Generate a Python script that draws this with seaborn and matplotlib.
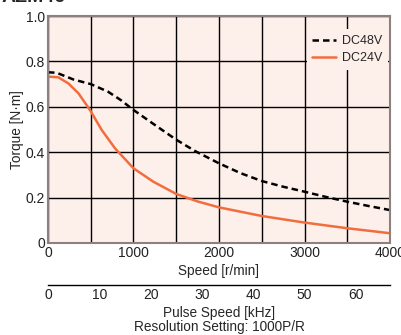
import matplotlib
matplotlib.use("Agg")
import matplotlib.pyplot as plt
import seaborn as sns
import pandas as pd

sns.set_style("white")
plt.rcParams['font.family'] = ['Liberation Sans', 'DejaVu Sans']

speed_48 = [0, 100, 300, 500, 700, 850, 1000, 1250, 1500, 1720, 2000, 2250, 2500, 2750, 3000, 3250, 3500, 3750, 4000]
torque_48 = [0.752, 0.750, 0.720, 0.700, 0.667, 0.630, 0.586, 0.520, 0.455, 0.405, 0.351, 0.308, 0.273, 0.248, 0.226, 0.203, 0.182, 0.163, 0.145]

speed_24 = [0, 120, 238, 355, 491, 628, 784, 1000, 1232, 1500, 1750, 2000, 2500, 3000, 3500, 4000]
torque_24 = [0.733, 0.730, 0.703, 0.660, 0.586, 0.498, 0.417, 0.329, 0.270, 0.216, 0.183, 0.157, 0.119, 0.090, 0.065, 0.043]

series_names = ["DC48V", "DC24V"]
x_ticks = [0, 1000, 2000, 3000, 4000]
y_ticks = [0, 0.2, 0.4, 0.6, 0.8, 1.0]
y_tick_labels = ["0", "0.2", "0.4", "0.6", "0.8", "1.0"]
khz_ticks = [0, 10, 20, 30, 40, 50, 60]

df = pd.concat([
    pd.DataFrame({"speed": speed_48, "torque": torque_48, "series": series_names[0]}),
    pd.DataFrame({"speed": speed_24, "torque": torque_24, "series": series_names[1]}),
])

orange = "#f26d3d"
fig = plt.figure(figsize=(4.02, 3.35), dpi=100)
ax = fig.add_axes([48/402, 92/335, 342/402, 227/335])
ax.set_facecolor("#fdf0ea")

sns.lineplot(data=df, x="speed", y="torque", hue="series", style="series",
             palette={"DC48V": "black", "DC24V": orange},
             dashes={"DC48V": (2.6, 1.6), "DC24V": ""},
             linewidth=1.8, ax=ax, sort=False)

ax.set_xlim(0, 4000)
ax.set_ylim(0, 1.0)
ax.set_xticks(x_ticks)
ax.set_xticks(range(500, 4000, 1000), minor=True)
ax.set_yticks(y_ticks)
ax.set_yticklabels(y_tick_labels)
ax.grid(True, which="both", color="black", linewidth=1)
ax.tick_params(which="both", length=0, labelsize=10, pad=2, colors="#222222")
for s in ax.spines.values():
    s.set_color("#8c8080")
    s.set_linewidth(1.5)
ax.set_xlabel("Speed [r/min]", fontsize=9.8, labelpad=3)
ax.set_ylabel("Torque [N·m]", fontsize=9.8, labelpad=1)

leg = ax.legend(loc="center", bbox_to_anchor=(0.876, 0.852), frameon=True,
                fontsize=9, handlelength=1.9, handletextpad=0.5,
                labelspacing=0.4, borderpad=0.45)
leg.get_frame().set_facecolor("#fdf0ea")
leg.get_frame().set_edgecolor("none")
leg.get_frame().set_alpha(1)
leg.get_frame().set_boxstyle("square", pad=0)

ax2 = fig.add_axes([48/402, 50/335, 342/402, 0.001])
ax2.set_xlim(0, 4000 / 60 * 1000 / 1000)
ax2.set_xticks(khz_ticks)
ax2.set_yticks([])
for side in ["top", "left", "right"]:
    ax2.spines[side].set_visible(False)
ax2.spines["bottom"].set_color("black")
ax2.spines["bottom"].set_linewidth(1)
ax2.set_facecolor("none")
ax2.tick_params(axis="x", direction="in", length=5, labelsize=10, pad=2, colors="#222222")
ax2.set_xlabel("Pulse Speed [kHz]\nResolution Setting: 1000P/R", fontsize=9.8,
               labelpad=3, linespacing=1.0)

fig.text(0.005, 1.0 + 11/335, "AZM46", fontsize=14, fontweight="bold", va="top", ha="left")

fig.savefig("out.png", dpi=100)
